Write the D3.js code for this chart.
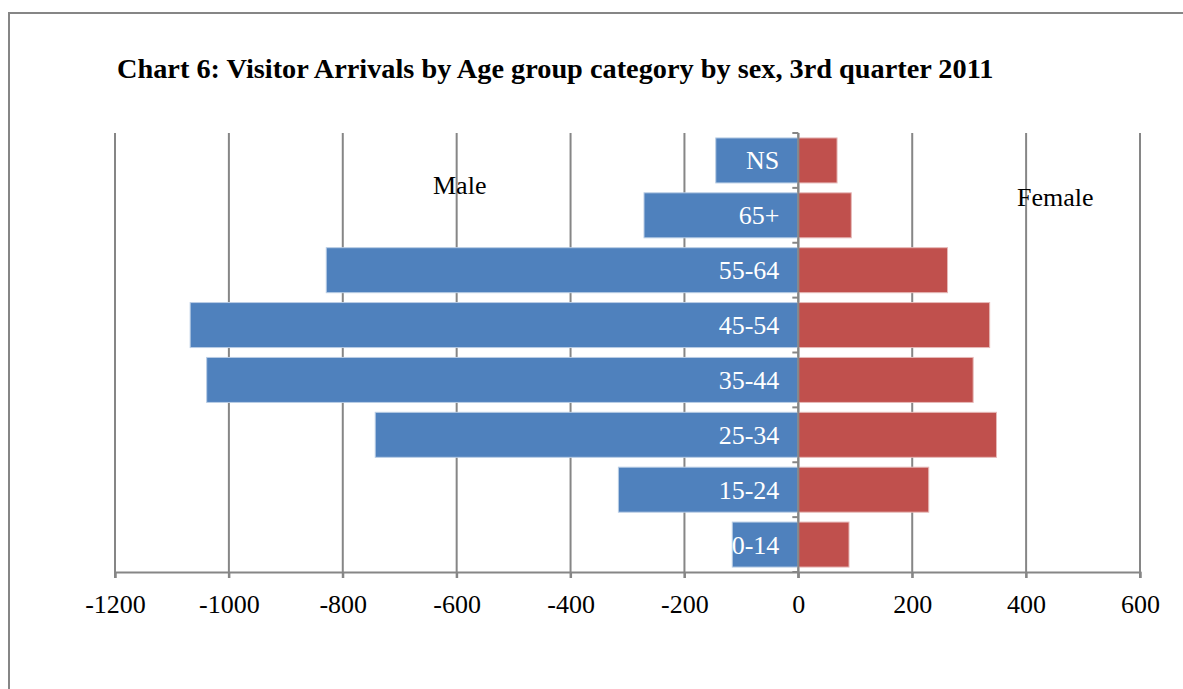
<!DOCTYPE html>
<html>
<head>
<meta charset="utf-8">
<script src="https://cdn.jsdelivr.net/npm/d3@7"></script>
<style>
  body { margin: 0; background: #fff; }
  svg text { font-family: "Liberation Serif", "Times New Roman", serif; }
</style>
</head>
<body>
<svg id="chart" width="1183" height="689"></svg>
<script>
  // age groups, top to bottom as drawn
  var categories = ["NS", "65+", "55-64", "45-54", "35-44", "25-34", "15-24", "0-14"];
  // male shown as negative values on the left
  var male = [-145, -271, -829, -1068, -1039, -743, -316, -116];
  var female = [68, 93, 262, 336, 307, 348, 229, 89];
  var xTicks = [-1200, -1000, -800, -600, -400, -200, 0, 200, 400, 600];
  var title = "Chart 6: Visitor Arrivals by Age group category by sex, 3rd quarter 2011";

  (function() {
    var svg = d3.select("#chart");
    var plotTop = 133, plotBottom = 572, plotLeft = 115, plotRight = 1140;
    var gridColor = "#868686";

    var x = d3.scaleLinear().domain([-1200, 600]).range([plotLeft, plotRight]);
    var y = d3.scaleBand().domain(categories).range([plotTop, plotBottom])
      .paddingInner(0.18).paddingOuter(0.09);

    // outer frame (only the left and top edges fall inside the picture)
    svg.append("path")
      .attr("d", "M9,689V13H1183")
      .attr("fill", "none").attr("stroke", gridColor).attr("stroke-width", 2);

    svg.append("text")
      .attr("x", 117).attr("y", 78)
      .attr("font-size", 28.3).attr("font-weight", "bold")
      .text(title);

    // vertical gridlines
    svg.append("g").selectAll("line").data(xTicks).enter().append("line")
      .attr("x1", function(d) { return x(d); }).attr("x2", function(d) { return x(d); })
      .attr("y1", plotTop).attr("y2", plotBottom + 6)
      .attr("stroke", gridColor).attr("stroke-width", 2);

    // bottom axis
    var xAxis = svg.append("g").attr("transform", "translate(0," + plotBottom + ")")
      .call(d3.axisBottom(x).tickValues(xTicks).tickSize(6).tickPadding(17)
        .tickFormat(function(d) { return String(d); }));
    xAxis.select(".domain").attr("stroke", gridColor).attr("stroke-width", 2);
    xAxis.selectAll(".tick line").attr("stroke", gridColor).attr("stroke-width", 2);
    xAxis.selectAll("text").attr("font-size", 26).attr("fill", "#000")
      .attr("font-family", "Liberation Serif, Times New Roman, serif");

    // bars
    var bars = svg.append("g");
    bars.selectAll("rect.m").data(categories).enter().append("rect")
      .attr("class", "m")
      .attr("x", function(d, i) { return x(male[i]); })
      .attr("width", function(d, i) { return x(0) - x(male[i]); })
      .attr("y", function(d) { return y(d); })
      .attr("height", y.bandwidth())
      .attr("fill", "#4F81BD").attr("stroke", "#b9cde5").attr("stroke-width", 1);
    bars.selectAll("rect.f").data(categories).enter().append("rect")
      .attr("class", "f")
      .attr("x", x(0))
      .attr("width", function(d, i) { return x(female[i]) - x(0); })
      .attr("y", function(d) { return y(d); })
      .attr("height", y.bandwidth())
      .attr("fill", "#C0504D").attr("stroke", "#e6b9b8").attr("stroke-width", 1);

    // category axis at zero with short ticks to the left
    var step = y.step();
    var bounds = categories.map(function(d) { return y(d) - step * y.paddingInner() / 2; });
    bounds.push(plotBottom);
    var yAxis = svg.append("g");
    yAxis.append("line")
      .attr("x1", x(0)).attr("x2", x(0)).attr("y1", plotTop).attr("y2", plotBottom + 6)
      .attr("stroke", gridColor).attr("stroke-width", 2);
    yAxis.selectAll("line.t").data(bounds).enter().append("line")
      .attr("class", "t")
      .attr("x1", x(0) - 6).attr("x2", x(0))
      .attr("y1", function(d) { return d; }).attr("y2", function(d) { return d; })
      .attr("stroke", gridColor).attr("stroke-width", 2);
    yAxis.selectAll("text").data(categories).enter().append("text")
      .attr("x", x(0) - 19)
      .attr("y", function(d) { return y(d) + y.bandwidth() / 2 + 9; })
      .attr("text-anchor", "end").attr("font-size", 26).attr("fill", "#fff")
      .text(function(d) { return d; });

    svg.append("text").attr("x", 433).attr("y", 194).attr("font-size", 26).text("Male");
    svg.append("text").attr("x", 1017).attr("y", 206).attr("font-size", 26).text("Female");
  })();
</script>
</body>
</html>
